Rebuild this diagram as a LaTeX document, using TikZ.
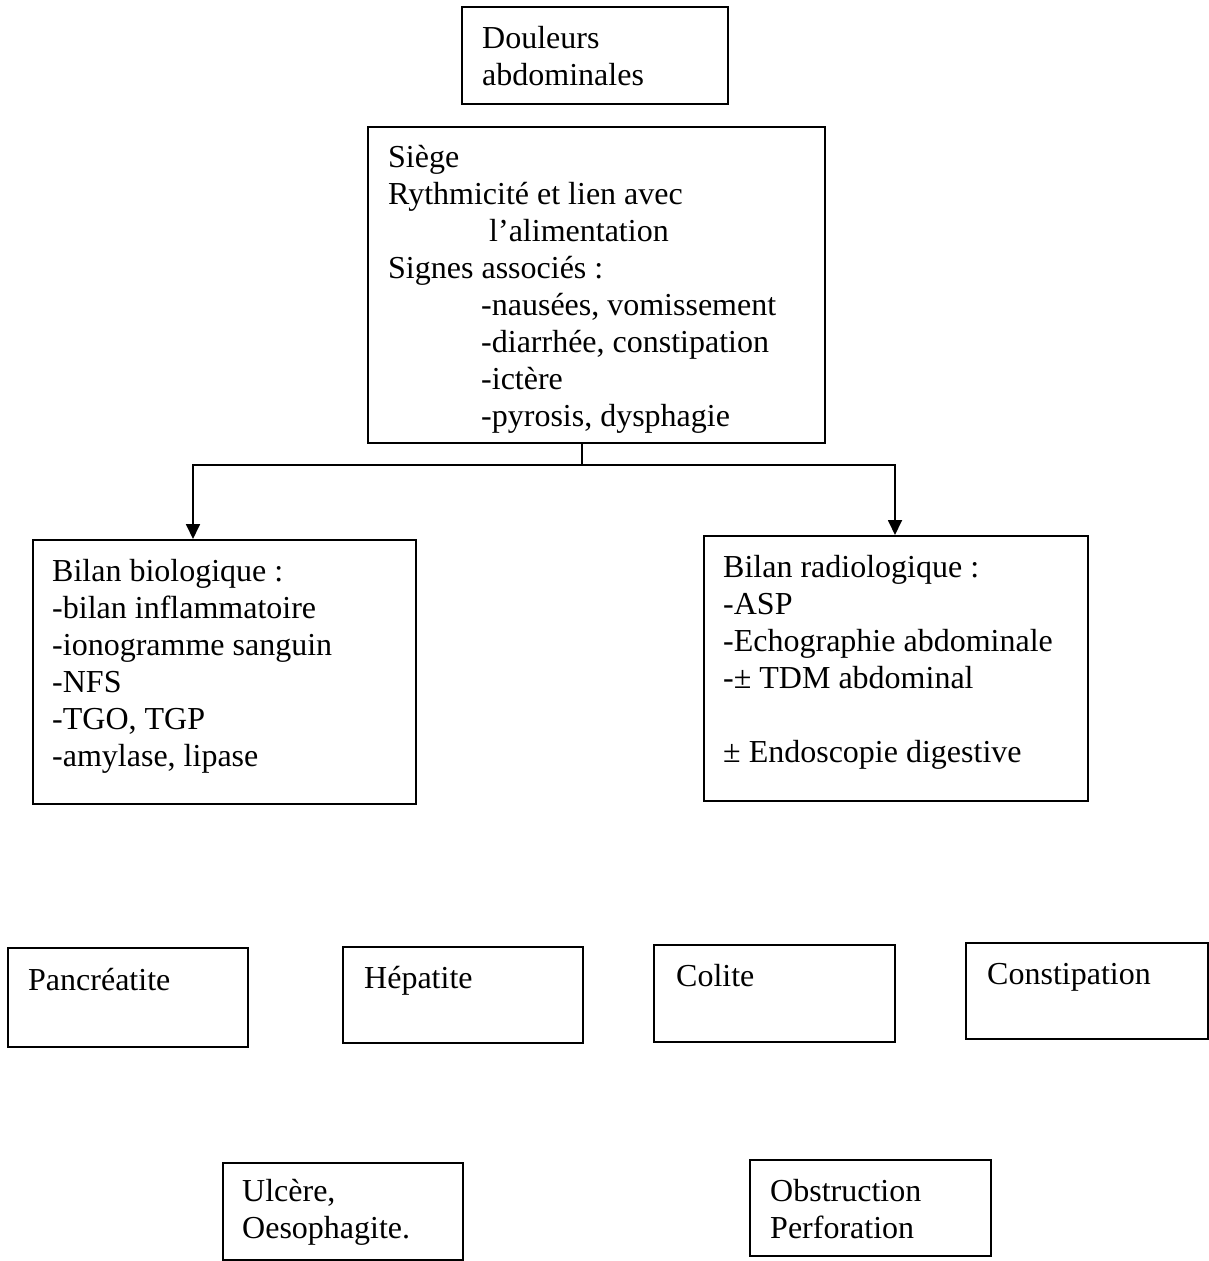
\documentclass[tikz,border=0pt]{standalone}
\usepackage{fontspec}
\setmainfont{Liberation Serif}
\usetikzlibrary{arrows.meta,calc}
\begin{document}
\begin{tikzpicture}[x=1pt,y=-1pt,
  box/.style n args={2}{draw, line width=1.8pt, anchor=north west, inner sep=0pt,
    minimum width=#1pt, minimum height=#2pt},
  txt/.style={anchor=north west, inner sep=0pt, align=left,
    font=\fontsize{32}{37}\selectfont, yshift=25.9pt},
  arr/.style={line width=1.8pt, -{Triangle[length=15pt,width=14pt]}},
  conn/.style={line width=1.8pt}]
\useasboundingbox (0,0) rectangle (1209,1261);

% boxes
\node[box={266}{97}] (doul) at (461,6) {};
\node[box={457}{316}] (siege) at (367,126) {};
\node[box={383}{264}] (bio) at (32,539) {};
\node[box={384}{265}] (radio) at (703,535) {};
\node[box={240}{99}] (panc) at (7,947) {};
\node[box={240}{96}] (hepa) at (342,946) {};
\node[box={241}{97}] (coli) at (653,944) {};
\node[box={242}{96}] (cons) at (965,942) {};
\node[box={240}{97}] (ulce) at (222,1162) {};
\node[box={241}{96}] (obst) at (749,1159) {};

% texts
\node[txt] (doult) at (482,48) {\strut Douleurs\\abdominales};
\node[txt] (siegt) at (388,167) {\strut Siège\\Rythmicité et lien avec\\\hspace*{101pt}l’alimentation\\Signes associés :\\\hspace*{93pt}-nausées, vomissement\\\hspace*{93pt}-diarrhée, constipation\\\hspace*{93pt}-ictère\\\hspace*{93pt}-pyrosis, dysphagie};
\node[txt] (biot) at (52,581) {\strut Bilan biologique :\\-bilan inflammatoire\\-ionogramme sanguin\\-NFS\\-TGO, TGP\\-amylase, lipase};
\node[txt] (radt) at (723,577) {\strut Bilan radiologique :\\-ASP\\-Echographie abdominale\\-± TDM abdominal\\\mbox{}\\± Endoscopie digestive};
\node[txt] (panct) at (28,990) {\strut Pancréatite};
\node[txt] (hepat) at (364,988) {\strut Hépatite};
\node[txt] (colit) at (676,986) {\strut Colite};
\node[txt] (const) at (987,984) {\strut Constipation};
\node[txt] (ulcet) at (242,1201) {\strut Ulcère,\\Oesophagite.};
\node[txt] (obstt) at (770,1201) {\strut Obstruction\\Perforation};

% connectors
\coordinate (j) at (582,465);
\coordinate (bioin) at ([xshift=161pt]bio.north west);
\coordinate (radin) at ([xshift=192pt]radio.north west);
\draw[conn] (j |- siege.south) -- (j);
\draw[arr] (j) -| (bioin);
\draw[arr] (j) -| (radin);
\end{tikzpicture}
\end{document}
